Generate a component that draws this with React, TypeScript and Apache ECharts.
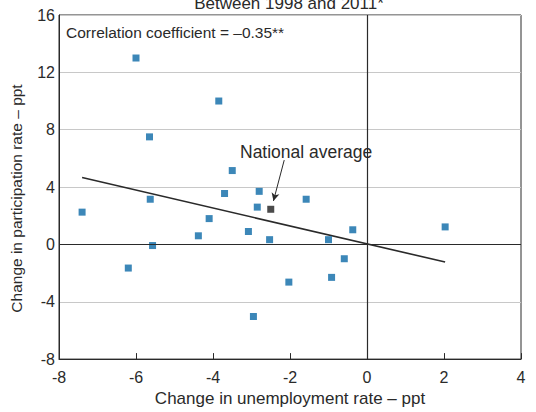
import React, { useEffect, useRef } from "react";
import * as echarts from "echarts";

const xTicks = [-8, -6, -4, -2, 0, 2, 4];
const yTicks = [-8, -4, 0, 4, 8, 12, 16];

// States: [change in unemployment rate, change in participation rate]
const statePoints: [number, number][] = [
  [-6.0, 13.0],
  [-3.85, 10.0],
  [-5.65, 7.5],
  [-3.5, 5.15],
  [-3.7, 3.55],
  [-2.8, 3.7],
  [-7.4, 2.25],
  [-5.63, 3.15],
  [-2.85, 2.6],
  [-4.1, 1.8],
  [-3.08, 0.9],
  [-4.38, 0.6],
  [-2.53, 0.33],
  [-5.57, -0.08],
  [-6.2, -1.65],
  [-2.03, -2.63],
  [-2.95, -5.03],
  [-1.58, 3.15],
  [-0.37, 1.02],
  [-1.0, 0.33],
  [-0.59, -1.0],
  [-0.92, -2.3],
  [2.03, 1.22],
];
const nationalAverage: [number, number][] = [[-2.5, 2.45]];
const fitLine: [number, number][] = [
  [-7.4, 4.66],
  [2.03, -1.23],
];
const arrowFrom: [number, number] = [-2.15, 5.88];
const arrowTo: [number, number] = [-2.43, 3.03];

const titleText = "Between 1998 and 2011*";
const corrText = "Correlation coefficient = \u20130.35**";
const avgLabel = "National average";
const xName = "Change in unemployment rate \u2013 ppt";
const yName = "Change in participation rate \u2013 ppt";

const FONT = "Arial, 'Liberation Sans', Helvetica, sans-serif";
const BLUE = "#0b69a6";
const DARK = "#2a2a2a";

export default function App() {
  const ref = useRef<HTMLDivElement>(null);
  useEffect(() => {
    if (!ref.current) return;
    const chart = echarts.init(ref.current, undefined, { renderer: "svg" });
    chart.setOption({
      animation: false,
      backgroundColor: "#ffffff",
      grid: {
        left: 59,
        right: 15,
        top: 15,
        bottom: 48,
        show: true,
        borderColor: DARK,
        borderWidth: 1,
        containLabel: false,
      },
      xAxis: {
        type: "value",
        min: xTicks[0],
        max: xTicks[xTicks.length - 1],
        interval: 2,
        name: xName,
        nameLocation: "middle",
        nameGap: 30,
        nameTextStyle: { fontFamily: FONT, fontSize: 17, color: DARK },
        axisLine: { show: true, onZero: false, lineStyle: { color: DARK, width: 1 } },
        axisTick: { show: true, inside: true, length: 6, lineStyle: { color: DARK } },
        axisLabel: {
          fontFamily: FONT,
          fontSize: 16,
          color: DARK,
          margin: 10,
          formatter: (v: number) => String(v),
        },
        splitLine: { show: false },
      },
      yAxis: {
        type: "value",
        min: yTicks[0],
        max: yTicks[yTicks.length - 1],
        interval: 4,
        axisLine: { show: true, onZero: false, lineStyle: { color: DARK, width: 1 } },
        axisTick: { show: false },
        axisLabel: {
          fontFamily: FONT,
          fontSize: 16,
          color: DARK,
          margin: 4,
          formatter: (v: number) => String(v),
        },
        splitLine: { show: true, lineStyle: { color: "#c8c8c8", width: 1 } },
      },
      graphic: [
        {
          type: "text",
          style: {
            text: titleText,
            x: 289,
            y: 12,
            fontFamily: FONT,
            fontSize: 17,
            fill: DARK,
            textAlign: "center",
            textVerticalAlign: "bottom",
          },
        },
        {
          type: "text",
          style: {
            text: corrText,
            x: 66,
            y: 24,
            fontFamily: FONT,
            fontSize: 15.5,
            fill: DARK,
          },
        },
        {
          type: "text",
          style: {
            text: avgLabel,
            x: 240,
            y: 143,
            fontFamily: FONT,
            fontSize: 17.5,
            fill: DARK,
          },
        },
        {
          type: "text",
          x: 8,
          y: 198.5,
          rotation: Math.PI / 2,
          style: {
            text: yName,
            x: 0,
            y: 0,
            fontFamily: FONT,
            fontSize: 15.5,
            fill: DARK,
            textAlign: "center",
            textVerticalAlign: "top",
          },
        },
      ],
      series: [
        {
          type: "line",
          data: fitLine,
          showSymbol: false,
          symbol: "none",
          lineStyle: { color: DARK, width: 1.6 },
          z: 3,
          silent: true,
          markLine: {
            silent: true,
            symbol: ["none", "none"],
            label: { show: false },
            lineStyle: { color: DARK, width: 1.2, type: "solid" },
            data: [{ xAxis: 0 }, { yAxis: 0 }],
          },
        },
        {
          type: "scatter",
          data: statePoints,
          symbol: "rect",
          symbolSize: 7,
          itemStyle: { color: BLUE },
          z: 4,
          silent: true,
        },
        {
          type: "scatter",
          data: nationalAverage,
          symbol: "rect",
          symbolSize: 7,
          itemStyle: { color: "#1e1e1e" },
          z: 4,
          silent: true,
          markLine: {
            silent: true,
            label: { show: false },
            symbol: ["none", "arrow"],
            symbolSize: [6, 8],
            lineStyle: { color: DARK, width: 1, type: "solid" },
            data: [[{ coord: arrowFrom }, { coord: arrowTo }]],
          },
        },
      ],
    });
    return () => chart.dispose();
  }, []);
  return (
    <div
      ref={ref}
      style={{ position: "fixed", left: 0, top: 0, width: 536, height: 412 }}
    />
  );
}
